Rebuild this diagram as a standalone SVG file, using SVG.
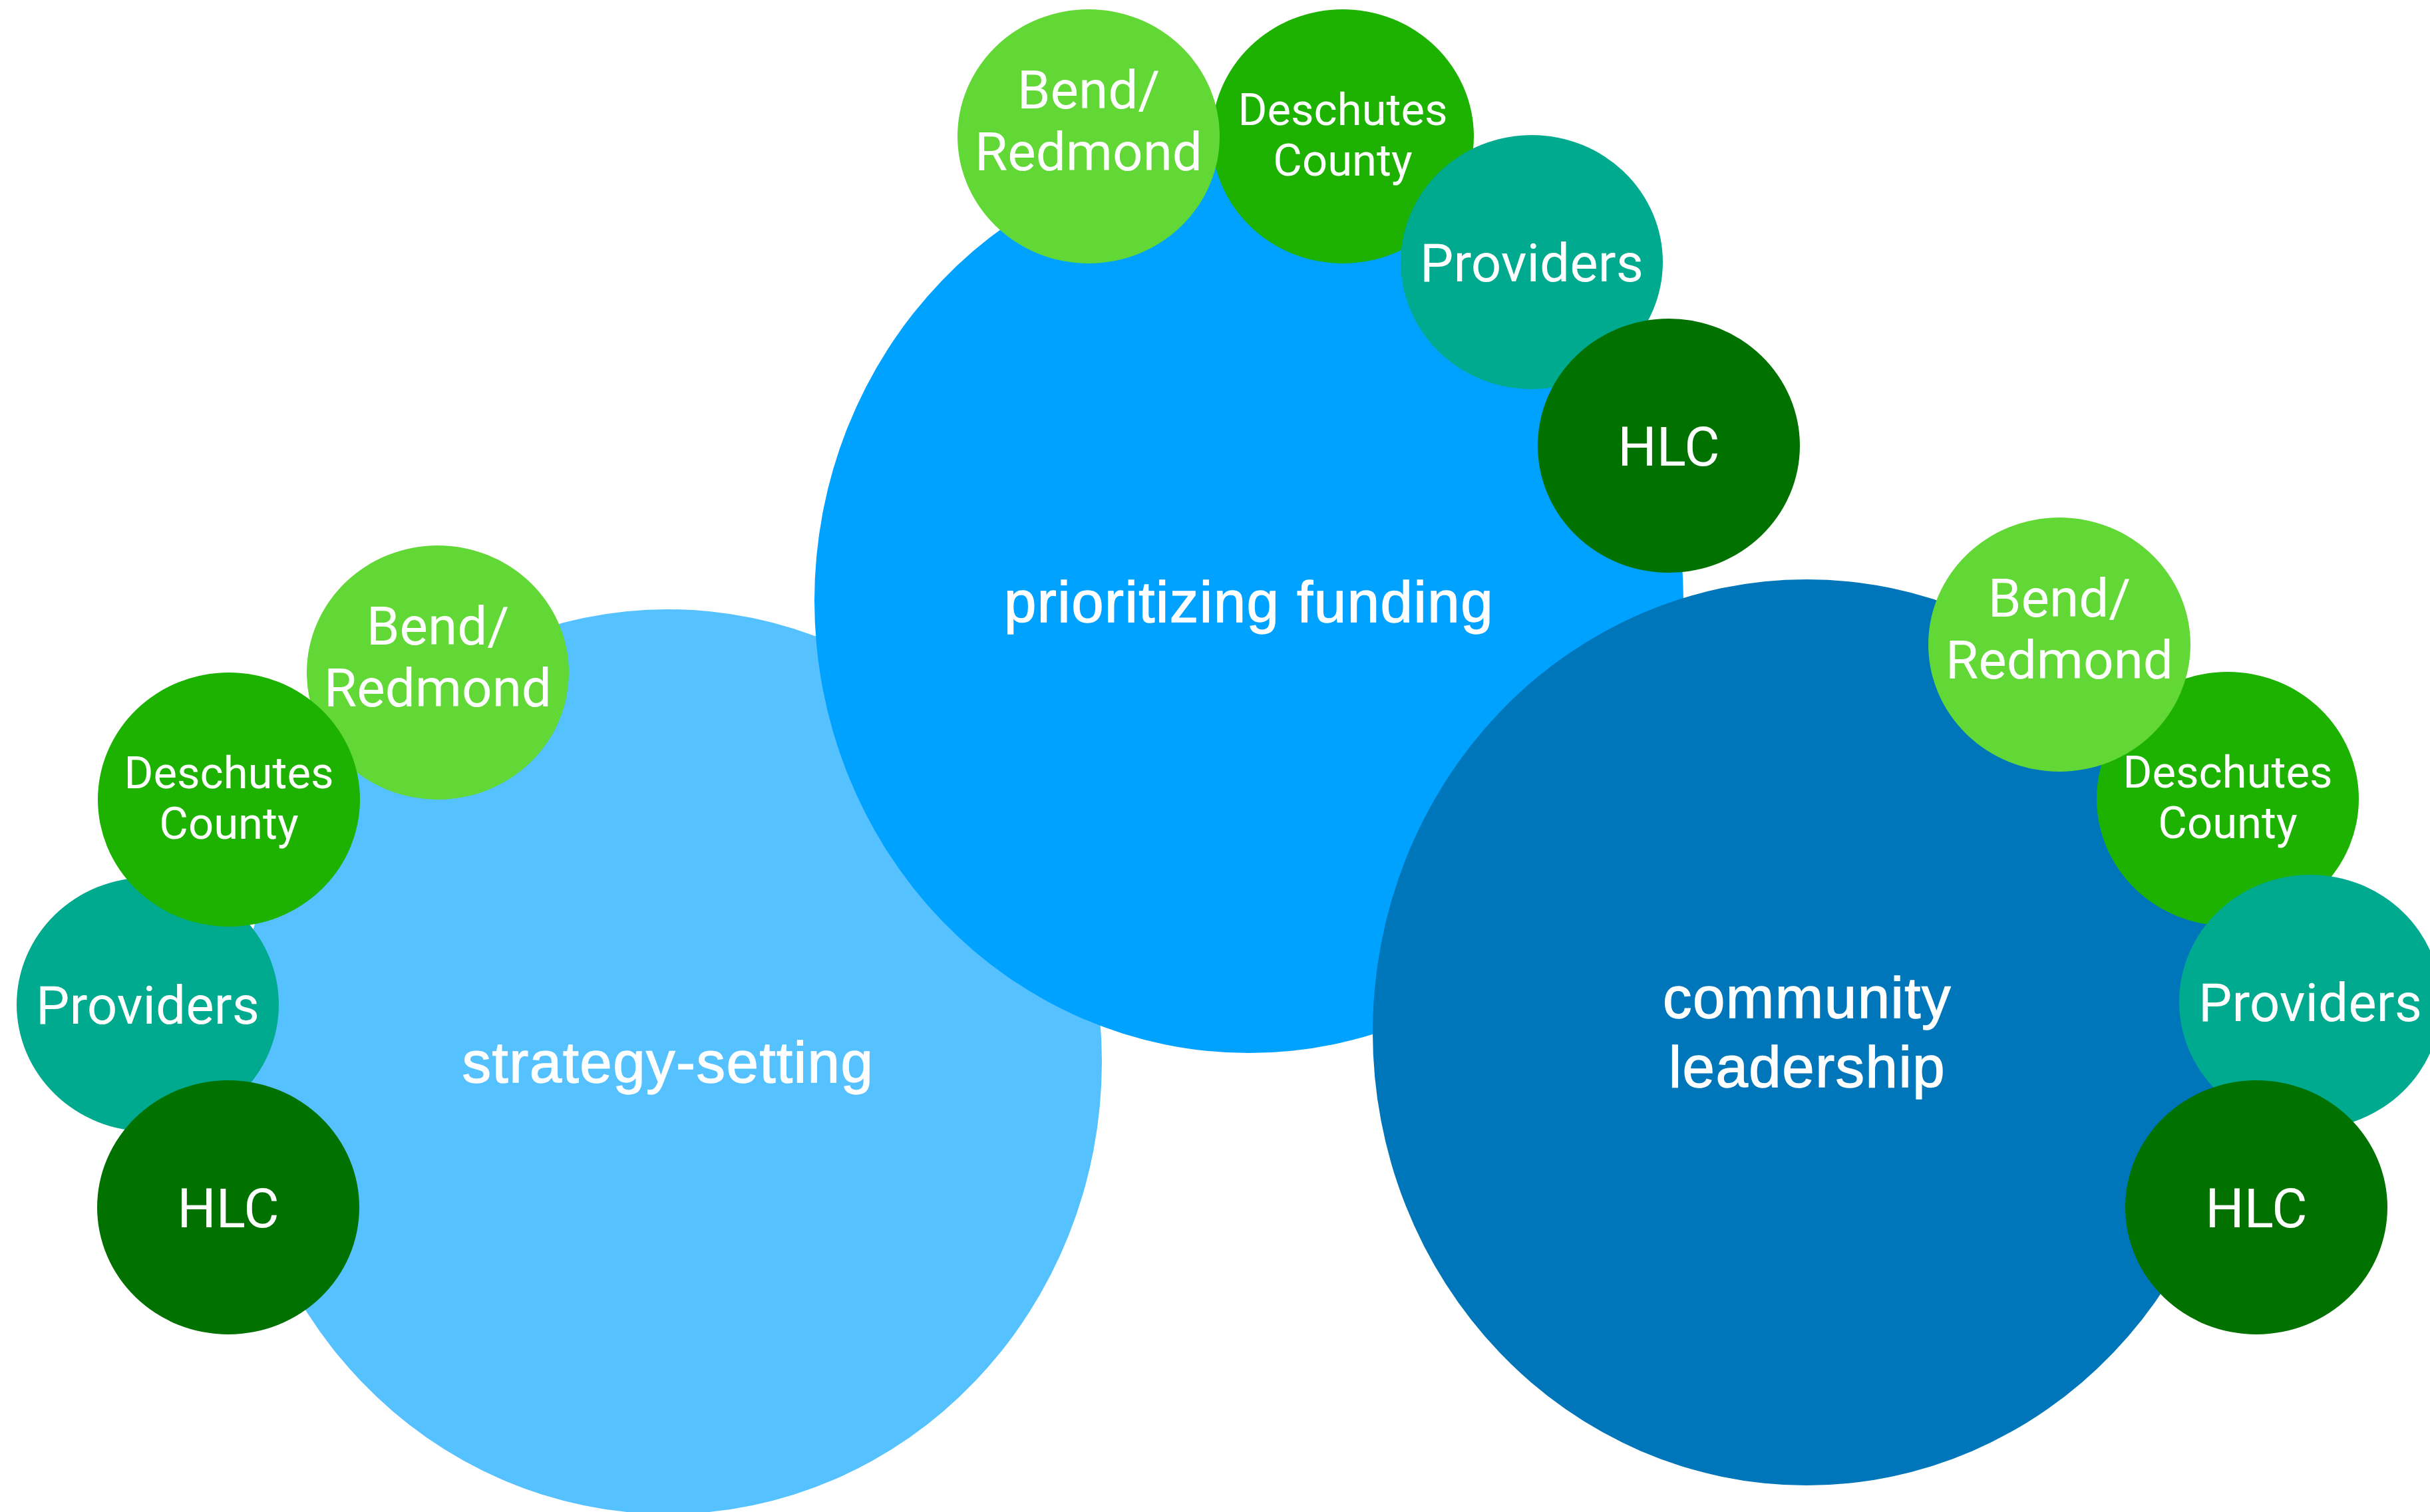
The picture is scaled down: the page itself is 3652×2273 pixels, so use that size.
<svg xmlns="http://www.w3.org/2000/svg" width="3652" height="2273" viewBox="0 0 3652 2273">
  <style>
    .big { font-family: "Liberation Sans", Arial, sans-serif; font-size: 87px; letter-spacing: 1.5px; fill: #ffffff; stroke: #ffffff; stroke-width: 1.4px; text-anchor: middle; }
    .sm { font-family: Roboto, "Noto Sans", sans-serif; fill: #ffffff; text-anchor: middle; }
    .s80 { font-size: 80px; }
    .s82 { font-size: 82px; }
    .s67 { font-size: 67px; }
    .c-light { fill: #56C1FF; }
    .c-mid { fill: #00A2FF; }
    .c-dark { fill: #0076BA; }
    .c-bend { fill: #61D836; }
    .c-desch { fill: #1DB100; }
    .c-prov { fill: #00AA8E; }
    .c-hlc { fill: #017100; }
  </style>
  <rect width="3652" height="2273" fill="#ffffff"/>

  <!-- no connectors: the clusters touch each other directly -->
  <g id="connectors"></g>

  <!-- cluster 1: strategy-setting -->
  <g id="strategy-setting">
    <ellipse class="c-light" cx="1004" cy="1596" rx="652" ry="680"/>
    <text class="big" x="1004" y="1627">strategy-setting</text>
  </g>
  <g id="ss-bend">
    <ellipse class="c-bend" cx="658" cy="1011" rx="197" ry="191"/>
    <text class="sm s80" x="658" y="969">Bend/</text>
    <text class="sm s80" x="658" y="1062">Redmond</text>
  </g>
  <g id="ss-providers">
    <ellipse class="c-prov" cx="222" cy="1510" rx="197" ry="191"/>
    <text class="sm s80" x="222" y="1539">Providers</text>
  </g>
  <g id="ss-deschutes">
    <ellipse class="c-desch" cx="344" cy="1202" rx="197" ry="191"/>
    <text class="sm s67" x="344" y="1185">Deschutes</text>
    <text class="sm s67" x="344" y="1261">County</text>
  </g>
  <g id="ss-hlc">
    <ellipse class="c-hlc" cx="343" cy="1815" rx="197" ry="191"/>
    <text class="sm s82" x="343" y="1845">HLC</text>
  </g>

  <!-- cluster 2: prioritizing funding -->
  <g id="prioritizing-funding">
    <ellipse class="c-mid" cx="1877" cy="903" rx="653" ry="680"/>
    <text class="big" x="1877" y="935">prioritizing funding</text>
  </g>
  <g id="pf-deschutes">
    <ellipse class="c-desch" cx="2018" cy="205" rx="197" ry="191"/>
    <text class="sm s67" x="2018" y="188">Deschutes</text>
    <text class="sm s67" x="2018" y="264">County</text>
  </g>
  <g id="pf-bend">
    <ellipse class="c-bend" cx="1636" cy="205" rx="197" ry="191"/>
    <text class="sm s80" x="1636" y="163">Bend/</text>
    <text class="sm s80" x="1636" y="256">Redmond</text>
  </g>
  <g id="pf-providers">
    <ellipse class="c-prov" cx="2302" cy="394" rx="197" ry="191"/>
    <text class="sm s80" x="2302" y="423">Providers</text>
  </g>
  <g id="pf-hlc">
    <ellipse class="c-hlc" cx="2508" cy="670" rx="197" ry="191"/>
    <text class="sm s82" x="2508" y="700">HLC</text>
  </g>

  <!-- cluster 3: community leadership -->
  <g id="community-leadership">
    <ellipse class="c-dark" cx="2715" cy="1552" rx="652" ry="681"/>
    <text class="big" x="2716" y="1530">community</text>
    <text class="big" x="2716" y="1634">leadership</text>
  </g>
  <g id="cl-deschutes">
    <ellipse class="c-desch" cx="3348" cy="1201" rx="197" ry="191"/>
    <text class="sm s67" x="3348" y="1184">Deschutes</text>
    <text class="sm s67" x="3348" y="1260">County</text>
  </g>
  <g id="cl-bend">
    <ellipse class="c-bend" cx="3095" cy="969" rx="197" ry="191"/>
    <text class="sm s80" x="3095" y="927">Bend/</text>
    <text class="sm s80" x="3095" y="1020">Redmond</text>
  </g>
  <g id="cl-providers">
    <ellipse class="c-prov" cx="3472" cy="1506" rx="197" ry="191"/>
    <text class="sm s80" x="3472" y="1535">Providers</text>
  </g>
  <g id="cl-hlc">
    <ellipse class="c-hlc" cx="3391" cy="1815" rx="197" ry="191"/>
    <text class="sm s82" x="3391" y="1845">HLC</text>
  </g>
</svg>
